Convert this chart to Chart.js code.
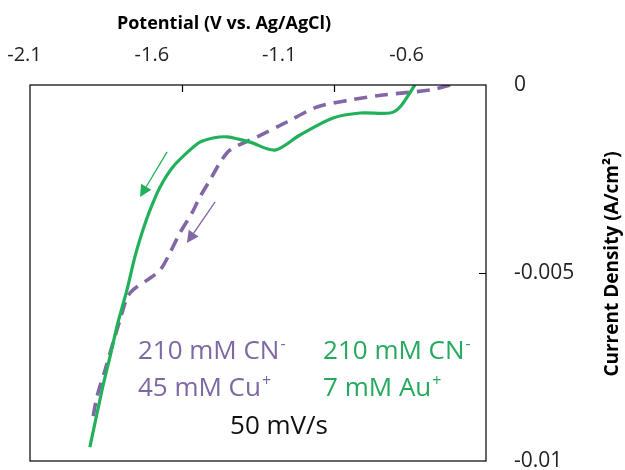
<!DOCTYPE html>
<html>
<head>
<meta charset="utf-8">
<script src="https://cdn.jsdelivr.net/npm/chart.js@4.4.1/dist/chart.umd.min.js"></script>
<style>
  html, body { margin: 0; padding: 0; background: #fff; }
</style>
</head>
<body>
<canvas id="cv" width="625" height="470"></canvas>
<script>
// values: potential (V vs. Ag/AgCl), current density (A/cm2)
const auPotential = [-0.834, -0.883, -0.916, -1.014, -1.103, -1.212, -1.294, -1.376, -1.452, -1.498, -1.541, -1.574, -1.630, -1.672, -1.705, -1.732, -1.755, -1.781, -1.811, -1.837, -1.863, -1.903];
const auCurrent   = [0, -0.000585, -0.000745, -0.000745, -0.000878, -0.00133, -0.00173, -0.00152, -0.00138, -0.00141, -0.00152, -0.00173, -0.00218, -0.00271, -0.00332, -0.00394, -0.00457, -0.00545, -0.00633, -0.00723, -0.00811, -0.00963];

const cuPotential = [-0.718, -0.784, -0.939, -1.047, -1.156, -1.255, -1.353, -1.442, -1.475, -1.508, -1.541, -1.567, -1.607, -1.640, -1.672, -1.715, -1.761, -1.781, -1.804, -1.827, -1.853, -1.880, -1.896];
const cuCurrent   = [0, -0.000133, -0.000266, -0.000399, -0.000585, -0.000984, -0.00138, -0.00173, -0.00207, -0.00253, -0.00298, -0.0034, -0.00394, -0.00447, -0.00492, -0.00519, -0.00545, -0.00566, -0.00625, -0.00686, -0.00758, -0.0083, -0.00899];

const xTicks = [-2.1, -1.6, -1.1, -0.6];
const yTicks = [0, -0.005, -0.01];

// the printed top labels sit on a narrower span than the plot frame
const xLabelMin = -2.0784;
const xLabelMax = -0.2881;

// sweep direction arrows: from (V, J) to (V, J)
const auArrow = [-1.649, -0.00178, -1.738, -0.00298];
const cuArrow = [-1.491, -0.00311, -1.584, -0.0042];

// notes, anchored at (V, J) of their first baseline
const cuNote = { lines: ['210 mM CN', '45 mM Cu'], sups: ['-', '+'], at: [-1.745, -0.00729] };
const auNote = { lines: ['210 mM CN', '7 mM Au'], sups: ['-', '+'], at: [-1.136, -0.00729] };
const rateNote = { text: '50 mV/s', at: [-1.442, -0.00928] };

const xTitle = 'Potential (V vs. Ag/AgCl)';
const yTitle = 'Current Density (A/cm²)';

const GREEN = '#21b15b';
const PURPLE = '#8167a5';
const FONT = "'Open Sans', sans-serif";

Chart.defaults.font.family = FONT;

function arrow(ctx, x1, y1, x2, y2, color) {
    const a = Math.atan2(y2 - y1, x2 - x1);
    const hl = 12, hw = 6;
    ctx.save();
    ctx.strokeStyle = color;
    ctx.fillStyle = color;
    ctx.lineWidth = 1.3;
    ctx.beginPath();
    ctx.moveTo(x1, y1);
    ctx.lineTo(x2 - hl * Math.cos(a), y2 - hl * Math.sin(a));
    ctx.stroke();
    ctx.beginPath();
    ctx.moveTo(x2, y2);
    ctx.lineTo(x2 - hl * Math.cos(a) + hw * Math.sin(a), y2 - hl * Math.sin(a) - hw * Math.cos(a));
    ctx.lineTo(x2 - hl * Math.cos(a) - hw * Math.sin(a), y2 - hl * Math.sin(a) + hw * Math.cos(a));
    ctx.closePath();
    ctx.fill();
    ctx.restore();
}

function note(ctx, x, y, n, color) {
    ctx.save();
    ctx.fillStyle = color;
    ctx.textBaseline = 'alphabetic';
    n.lines.forEach((t, i) => {
        const yy = y + i * 37;
        ctx.font = '26px ' + FONT;
        ctx.fillText(t, x, yy);
        const w = ctx.measureText(t).width;
        ctx.font = '16px ' + FONT;
        ctx.fillText(n.sups[i], x + w + 1, yy - 10);
    });
    ctx.restore();
}

function noPad(s) {
    s.paddingLeft = s.paddingRight = s.paddingTop = s.paddingBottom = 0;
}

// frame, inward ticks, arrows, notes and titles
const decorations = {
    id: 'decorations',
    afterDatasetsDraw(chart) {
        const { ctx, chartArea: ca, scales: { x, y } } = chart;
        ctx.save();
        ctx.strokeStyle = '#000';
        ctx.lineWidth = 1.2;
        ctx.strokeRect(ca.left, ca.top, ca.right - ca.left, ca.bottom - ca.top);
        ctx.beginPath();
        xTicks.slice(1, -1).forEach(v => {
            const px = Math.round(x.getPixelForValue(v)) + 0.5;
            ctx.moveTo(px, ca.top);
            ctx.lineTo(px, ca.top + 7);
        });
        yTicks.slice(1, -1).forEach(v => {
            const py = Math.round(y.getPixelForValue(v)) + 0.5;
            ctx.moveTo(ca.right, py);
            ctx.lineTo(ca.right - 7, py);
        });
        ctx.stroke();
        ctx.restore();

        arrow(ctx, x.getPixelForValue(auArrow[0]), y.getPixelForValue(auArrow[1]),
            x.getPixelForValue(auArrow[2]), y.getPixelForValue(auArrow[3]), GREEN);
        arrow(ctx, x.getPixelForValue(cuArrow[0]), y.getPixelForValue(cuArrow[1]),
            x.getPixelForValue(cuArrow[2]), y.getPixelForValue(cuArrow[3]), PURPLE);

        note(ctx, x.getPixelForValue(cuNote.at[0]), y.getPixelForValue(cuNote.at[1]), cuNote, '#7d68a3');
        note(ctx, x.getPixelForValue(auNote.at[0]), y.getPixelForValue(auNote.at[1]), auNote, '#25a95e');

        ctx.save();
        ctx.fillStyle = '#111';
        ctx.font = '26px ' + FONT;
        ctx.fillText(rateNote.text, x.getPixelForValue(rateNote.at[0]), y.getPixelForValue(rateNote.at[1]));

        ctx.fillStyle = '#000';
        ctx.font = 'bold 18px ' + FONT;
        ctx.textAlign = 'center';
        ctx.textBaseline = 'middle';
        ctx.fillText(xTitle, 224, 24);

        ctx.translate(613, 264);
        ctx.rotate(-Math.PI / 2);
        ctx.font = 'bold 19px ' + FONT;
        ctx.fillText(yTitle, 0, 0);
        ctx.restore();
    }
};

new Chart(document.getElementById('cv'), {
    type: 'line',
    data: {
        datasets: [
            {
                label: '7 mM Au+',
                data: auPotential.map((v, i) => ({ x: v, y: auCurrent[i] })),
                borderColor: GREEN,
                borderWidth: 3.2,
                pointRadius: 0,
                tension: 0.3,
                fill: false
            },
            {
                label: '45 mM Cu+',
                data: cuPotential.map((v, i) => ({ x: v, y: cuCurrent[i] })),
                borderColor: PURPLE,
                borderWidth: 3.6,
                borderDash: [13, 8],
                pointRadius: 0,
                tension: 0.3,
                fill: false
            }
        ]
    },
    options: {
        responsive: false,
        animation: false,
        layout: { padding: { left: 30, right: 0, top: 0, bottom: 9 } },
        plugins: { legend: { display: false }, tooltip: { enabled: false } },
        scales: {
            x: {
                type: 'linear',
                display: false,
                min: -2.1,
                max: -0.6
            },
            x2: {
                type: 'linear',
                axis: 'x',
                position: 'top',
                min: xLabelMin,
                max: xLabelMax,
                afterBuildTicks: s => { s.ticks = xTicks.map(v => ({ value: v })); },
                afterFit: s => { s.height = 85; noPad(s); },
                grid: { display: false },
                border: { display: false },
                ticks: {
                    autoSkip: false,
                    maxRotation: 0,
                    padding: 10,
                    color: '#222',
                    font: { size: 20 },
                    callback: v => String(v)
                },
                title: { display: false }
            },
            y: {
                type: 'linear',
                position: 'right',
                min: -0.01,
                max: 0,
                afterBuildTicks: s => { s.ticks = yTicks.map(v => ({ value: v })); },
                afterFit: s => { s.width = 139; noPad(s); },
                grid: { display: false },
                border: { display: false },
                ticks: {
                    padding: 20,
                    color: '#222',
                    font: { size: 21 },
                    callback: v => String(v)
                },
                title: { display: false }
            }
        }
    },
    plugins: [decorations]
});
</script>
</body>
</html>
